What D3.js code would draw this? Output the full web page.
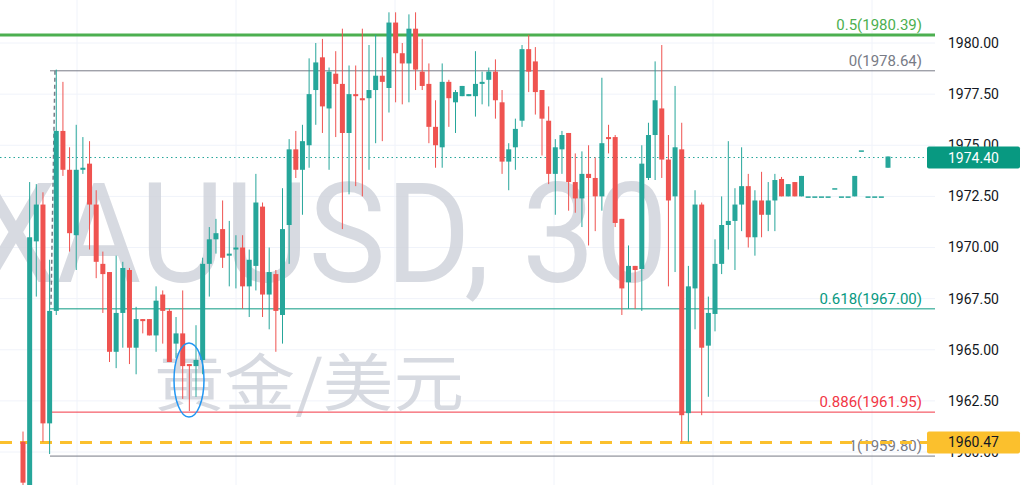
<!DOCTYPE html>
<html><head><meta charset="utf-8">
<script src="https://cdn.jsdelivr.net/npm/d3@7"></script>
<style>body{margin:0;background:#fff}svg{display:block}</style>
</head><body>
<svg id="c" width="1024" height="485"></svg>
<script>
const open=[1960.5,1957,1970.3,1972.1,1961.4,1966.9,1975.7,1973.8,1970.6,1973.8,1974.1,1972.1,1969.2,1968.8,1964.9,1966.8,1968.9,1965.1,1966.5,1966.5,1965.7,1967.7,1966.9,1965.3,1965.8,1964.3,1964.2,1964.5,1969.2,1970.4,1970.9,1969.6,1969.9,1970,1968.1,1969.1,1972,1967.7,1968.7,1966.7,1971.1,1974.8,1973.8,1975,1977.7,1979.3,1976.8,1978.5,1978,1975.6,1977.5,1977.3,1977.3,1977.7,1978.4,1977.8,1981,1979.5,1979,1980.7,1978.6,1978,1975.9,1974.9,1978.1,1977.1,1977.4,1977.4,1977.4,1978,1978.2,1978.6,1977.1,1974.2,1974.9,1976.2,1979.7,1979.1,1977.7,1976.2,1973.6,1974.8,1975.6,1973.2,1972.4,1973.6,1973.4,1972.5,1975.4,1975.4,1971.4,1968.3,1969.1,1968.95,1973.4,1975.5,1976.8,1974.3,1972.5,1974.8,1961.9,1968,1972.1,1965.2,1966.75,1969.2,1971.1,1971.3,1972.1,1973,1970.5,1972.3,1971.6,1972.3,1973.35,1972.5,1973.2,1972.5,1972.5,1972.5,1972.5,1972.5,1972.9,1972.5,1972.5,1972.5,1974.75,1972.5,1972.5,1972.5,1973.9];
const high=[1961,1973.2,1973.1,1972.7,1969.4,1978.7,1978.1,1974.9,1976,1975.4,1975.2,1972.8,1969.8,1968.8,1969.6,1969.3,1969,1967.1,1966.5,1966.5,1968.1,1967.9,1967,1966.6,1967.9,1964.3,1966.2,1969.5,1971,1971.4,1972.3,1971.3,1970.6,1970.6,1969.9,1973.6,1972.2,1970,1968.9,1972.9,1975.3,1975.7,1976,1979.25,1980,1980.2,1978.8,1979.6,1980.7,1978.9,1978.9,1980.7,1979.9,1980.4,1979.3,1981.5,1981.5,1980,1981.4,1981.5,1980.2,1979,1977.2,1979,1978.2,1977.7,1977.9,1977.5,1979.6,1978.6,1978.8,1979.2,1977.7,1975.1,1976.3,1979.9,1980.4,1979.8,1977.7,1976.9,1975.3,1975.7,1975.6,1974.6,1974.7,1975,1974.4,1978.3,1976,1975.5,1971.4,1970.1,1969.1,1975,1976.1,1979.1,1979.9,1975.5,1977.9,1976.1,1969.1,1972.8,1972.2,1967.6,1970.4,1972.5,1975.2,1972.9,1974.9,1973.6,1972.8,1973.7,1973.2,1973.6,1973.45,1973.1,1973.2,1973.5,1972.5,1972.5,1972.5,1972.5,1972.9,1972.5,1972.5,1973.5,1974.75,1972.5,1972.5,1972.5,1974.45];
const low=[1957.5,1956,1967.6,1960.5,1959.9,1966.7,1973.5,1969.8,1968.9,1973.6,1969.9,1968.5,1966.8,1964.4,1964.1,1965.1,1964.3,1963.8,1965.8,1965.7,1964.9,1965.3,1964.4,1964.6,1962.6,1962,1962.7,1963.8,1967.6,1969.7,1969,1968.1,1968,1967,1966.6,1967.9,1966.6,1966,1964.9,1965.3,1969.2,1973.4,1971.6,1973.9,1976,1975.6,1973.8,1975.4,1970.9,1972.6,1973,1972.5,1973.8,1975.1,1975.2,1976.6,1977.1,1977,1977.1,1977.7,1977.7,1975.1,1973.9,1973.9,1975.9,1975.6,1977.4,1977.4,1976.4,1977,1976.9,1976.3,1973.6,1972.8,1973.8,1975.9,1977.6,1976.5,1974.5,1973.1,1971.6,1973.6,1971.8,1971.7,1971,1970.1,1970.8,1971.8,1974.6,1971,1966.7,1967,1967,1966.9,1973.3,1973.3,1973.4,1968.1,1968.8,1960.5,1960.5,1966,1961.8,1962.7,1965.9,1968.7,1969.9,1968.9,1970.8,1970,1969.6,1970.5,1970.8,1970.8,1972.5,1972.5,1972.5,1972.5,1972.5,1972.5,1972.5,1972.5,1972.9,1972.5,1972.5,1972.5,1974.75,1972.5,1972.5,1972.5,1973.9];
const close=[1958.5,1970.5,1972.1,1961.4,1966.9,1975.7,1973.8,1970.7,1973.8,1973.9,1972.1,1969.3,1968.7,1964.9,1966.8,1969,1965.1,1966.5,1966.4,1965.7,1967.4,1966.9,1964.4,1965.8,1964.2,1964.2,1964.5,1969.2,1970.4,1970.7,1969.5,1969.7,1970,1968.1,1969.4,1972.2,1967.7,1968.8,1966.9,1970.9,1974.8,1973.8,1975.2,1977.5,1979.05,1976.9,1978.6,1978,1975.6,1977.5,1977.4,1977.2,1977.7,1978.4,1978.1,1981,1979.5,1979,1980.7,1978.7,1977.9,1975.9,1975,1978.1,1977.3,1977.6,1977.9,1977.5,1978,1978.1,1978.6,1977.2,1974.2,1974.8,1975.8,1979.7,1978.6,1977.6,1976.3,1973.6,1974.9,1975.5,1973.2,1972.4,1973.6,1973.4,1972.5,1975.1,1975.3,1971.2,1968,1969.1,1968.9,1974.1,1975.5,1977.2,1974.3,1972.3,1974.9,1961.8,1968.1,1972.1,1965.1,1966.8,1969.2,1971.1,1971.3,1972.1,1973,1970.5,1972.3,1971.6,1972.3,1973.3,1972.5,1973.1,1972.5,1973.5,1972.5,1972.5,1972.5,1972.5,1972.9,1972.5,1972.5,1973.5,1974.75,1972.5,1972.5,1972.5,1974.45];
const priceTicks=[1980,1977.5,1975,1972.5,1970,1967.5,1965,1962.5,1960];
const fibLevels=[{v:1980.39,t:"0.5(1980.39)",c:"#4caf50",w:3,full:true},{v:1978.64,t:"0(1978.64)",c:"#787b86",w:1},{v:1967.00,t:"0.618(1967.00)",c:"#089981",w:1},{v:1961.95,t:"0.886(1961.95)",c:"#f23645",w:1},{v:1959.80,t:"1(1959.80)",c:"#787b86",w:1}];
const lastPrice=1974.40, markPrice=1960.47;

const svg=d3.select("#c");
const W=935;
const y=d3.scaleLinear().domain([1960,1980]).range([452,43]);
const x=d3.scaleLinear().domain([0,130]).range([23,888]);
const g=svg.append("g");
[77,236,395,554,713,872].forEach(v=>g.append("line").attr("x1",v).attr("x2",v).attr("y1",0).attr("y2",485).attr("stroke","#f0f3fa"));
priceTicks.forEach(v=>g.append("line").attr("x1",0).attr("x2",W).attr("y1",y(v)).attr("y2",y(v)).attr("stroke","#f0f3fa"));
g.append("text").attr("x",-25).attr("y",282).attr("font-family","Roboto, sans-serif").attr("font-size",140).attr("textLength",693).attr("lengthAdjust","spacingAndGlyphs").attr("fill","#d1d4dc").attr("opacity",0.85).text("XAUUSD, 30");
g.append("text").attr("x",154).attr("y",406).attr("font-family","Noto Sans CJK SC").attr("font-size",62).attr("textLength",310).attr("lengthAdjust","spacingAndGlyphs").attr("fill","#d1d4dc").attr("opacity",0.85).text("黄金/美元");
fibLevels.forEach(f=>{
  g.append("line").attr("x1",f.full?0:50).attr("x2",W).attr("y1",y(f.v)).attr("y2",y(f.v)).attr("stroke",f.c).attr("stroke-width",f.w);
  g.append("text").attr("x",922).attr("y",y(f.v)-5).attr("text-anchor","end").attr("font-family","Roboto, sans-serif").attr("font-size",15).attr("fill",f.c).text(f.t);
});
g.append("line").attr("x1",0).attr("x2",W).attr("y1",y(markPrice)).attr("y2",y(markPrice)).attr("stroke","#fbc02d").attr("stroke-width",3).attr("stroke-dasharray","12,8");
g.append("line").attr("x1",0).attr("x2",W).attr("y1",y(lastPrice)).attr("y2",y(lastPrice)).attr("stroke","#26a69a").attr("stroke-dasharray","1.5,3");
g.append("line").attr("x1",55).attr("y1",y(1978.64)).attr("x2",51).attr("y2",y(1967.2)).attr("stroke","#787b86").attr("stroke-width",1.5).attr("stroke-dasharray","4,3");
d3.range(open.length).forEach(i=>{
  const up=close[i]>=open[i];const col=up?"#26a69a":"#ef5350";const cx=x(i);
  g.append("line").attr("x1",cx).attr("x2",cx).attr("y1",y(high[i])).attr("y2",y(low[i])).attr("stroke",col).attr("stroke-width",1);
  const t=y(Math.max(open[i],close[i])),b=y(Math.min(open[i],close[i]));
  g.append("rect").attr("x",cx-2.5).attr("width",5).attr("y",t).attr("height",Math.max(1.5,b-t)).attr("fill",col);
});
g.append("ellipse").attr("cx",189).attr("cy",380).attr("rx",15).attr("ry",37).attr("fill","none").attr("stroke","#2196f3").attr("stroke-width",1.5);
svg.append("rect").attr("x",W).attr("y",0).attr("width",1024-W).attr("height",485).attr("fill","#fff");
const ax=svg.append("g").attr("transform",`translate(${W},0)`).call(d3.axisRight(y).tickValues(priceTicks).tickFormat(d3.format(".2f")).tickSize(0).tickPadding(13));
ax.select(".domain").remove();
ax.selectAll("text").attr("font-family","Roboto, sans-serif").attr("font-size",14).attr("fill","#131722");
function tag(v,bg,fg){const yy=y(v);svg.append("rect").attr("x",927).attr("y",yy-11).attr("width",93).attr("height",22).attr("rx",2).attr("fill",bg);
svg.append("text").attr("x",948).attr("y",yy+5).attr("font-family","Roboto, sans-serif").attr("font-size",14).attr("fill",fg).text(v.toFixed(2));}
tag(lastPrice,"#089981","#fff");tag(markPrice,"#fbc02d","#131722");
</script></body></html>
